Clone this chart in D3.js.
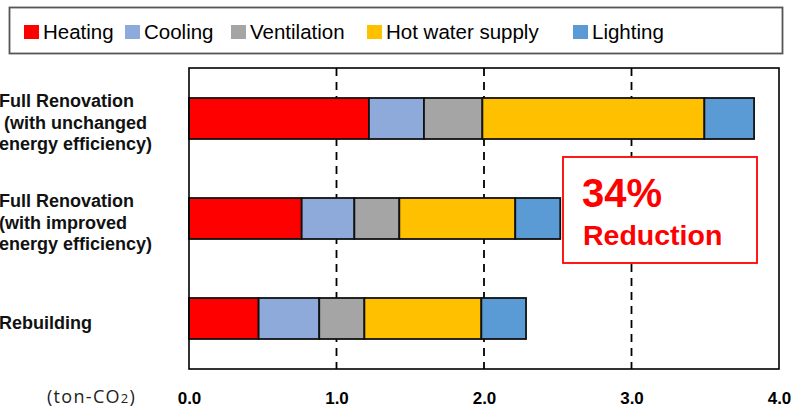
<!DOCTYPE html>
<html>
<head>
<meta charset="utf-8">
<script src="https://cdn.jsdelivr.net/npm/d3@7"></script>
<style>
  body { margin: 0; background: #fff; }
  svg { display: block; font-family: "Liberation Sans", Arial, sans-serif; }
</style>
</head>
<body>
<div id="chart"></div>
<script>
const width = 793;
const height = 408;
const margin = { top: 68, right: 14, bottom: 39, left: 189 };
const innerWidth = width - margin.left - margin.right;
const innerHeight = height - margin.top - margin.bottom;

// data
const categories = ["unchanged", "improved", "rebuilding"];
const categoryLines = [
  ["Full Renovation", " (with unchanged", "energy efficiency)"],
  ["Full Renovation", "(with improved", "energy efficiency)"],
  ["Rebuilding"]
];
const seriesKeys = ["Heating", "Cooling", "Ventilation", "Hot water supply", "Lighting"];
const heating = [1.22, 0.764, 0.472];
const cooling = [0.373, 0.357, 0.411];
const ventilation = [0.396, 0.305, 0.306];
const hotWater = [1.505, 0.786, 0.793];
const lighting = [0.337, 0.305, 0.303];
const xTicks = [0, 1, 2, 3, 4];
const colors = ["#ff0000", "#8eaadb", "#a5a5a5", "#ffc000", "#5b9bd5"];

const data = categories.map((c, i) => ({
  category: c,
  "Heating": heating[i],
  "Cooling": cooling[i],
  "Ventilation": ventilation[i],
  "Hot water supply": hotWater[i],
  "Lighting": lighting[i]
}));

const colorScale = d3.scaleOrdinal().domain(seriesKeys).range(colors);

const svg = d3.select("#chart").append("svg")
  .attr("width", width)
  .attr("height", height)
  .attr("viewBox", [0, 0, width, height]);

const innerChart = svg.append("g")
  .attr("transform", `translate(${margin.left}, ${margin.top})`);

const xScale = d3.scaleLinear()
  .domain([0, 4])
  .range([0, innerWidth]);

const yScale = d3.scaleBand()
  .domain(categories)
  .range([0, innerHeight])
  .paddingInner(0.59)
  .paddingOuter(0.3);

/* gridlines */
innerChart.selectAll(".grid")
  .data(xTicks.filter(t => t > 0 && t < 4))
  .join("line")
    .attr("class", "grid")
    .attr("x1", d => xScale(d))
    .attr("x2", d => xScale(d))
    .attr("y1", 0)
    .attr("y2", innerHeight)
    .attr("stroke", "#000")
    .attr("stroke-width", 1.8)
    .attr("stroke-dasharray", "8,6");

/* stacked bars */
const stackGenerator = d3.stack().keys(seriesKeys);
const annotatedData = stackGenerator(data);

annotatedData.forEach(series => {
  innerChart.selectAll(`.bar-${series.index}`)
    .data(series)
    .join("rect")
      .attr("class", `bar-${series.index}`)
      .attr("x", d => xScale(d[0]))
      .attr("y", d => yScale(d.data.category))
      .attr("width", d => xScale(d[1]) - xScale(d[0]))
      .attr("height", yScale.bandwidth())
      .attr("fill", colorScale(series.key))
      .attr("stroke", "#111")
      .attr("stroke-width", 1.8);
});

/* plot frame */
innerChart.append("rect")
  .attr("x", 0)
  .attr("y", 0)
  .attr("width", innerWidth)
  .attr("height", innerHeight)
  .attr("fill", "none")
  .attr("stroke", "#000")
  .attr("stroke-width", 1.6);

/* x axis labels */
const xAxis = innerChart.append("g")
  .attr("transform", `translate(0, ${innerHeight})`)
  .call(d3.axisBottom(xScale)
    .tickValues(xTicks)
    .tickFormat(d3.format(".1f"))
    .tickSize(0));
xAxis.select(".domain").remove();
xAxis.selectAll("text")
  .attr("y", 35)
  .attr("dy", null)
  .attr("font-family", "'Liberation Sans', Arial, sans-serif")
  .attr("font-size", 17)
  .attr("font-weight", "bold")
  .attr("fill", "#000");

/* unit label */
const unit = svg.append("text")
  .attr("x", 47)
  .attr("y", 403)
  .attr("font-family", "'Open Sans', sans-serif")
  .attr("font-size", 18)
  .attr("letter-spacing", 1.3)
  .attr("fill", "#222");
unit.append("tspan").text("(ton-CO");
unit.append("tspan").attr("font-size", 13).text("2");
unit.append("tspan").text(")");

/* category labels */
categories.forEach((c, i) => {
  const lines = categoryLines[i];
  const cy = margin.top + yScale(c) + yScale.bandwidth() / 2;
  const t = svg.append("text")
    .attr("font-size", 18)
    .attr("font-weight", "bold")
    .attr("fill", "#111")
    .style("white-space", "pre");
  lines.forEach((line, j) => {
    t.append("tspan")
      .attr("x", -1)
      .attr("y", cy + 10 + (j - (lines.length - 1) / 2) * 21.5)
      .text(line);
  });
});

/* legend */
svg.append("rect")
  .attr("x", 9.5)
  .attr("y", 7.5)
  .attr("width", 773)
  .attr("height", 46)
  .attr("fill", "#fff")
  .attr("stroke", "#555")
  .attr("stroke-width", 1.8);

const legendX = [24, 125, 231, 367, 573];
const legend = svg.selectAll(".legend-item")
  .data(seriesKeys)
  .join("g")
    .attr("class", "legend-item")
    .attr("transform", (d, i) => `translate(${legendX[i]}, 0)`);
legend.append("rect")
  .attr("x", 0)
  .attr("y", 25)
  .attr("width", 15)
  .attr("height", 14)
  .attr("fill", d => colorScale(d));
legend.append("text")
  .attr("x", 19)
  .attr("y", 39)
  .attr("font-size", 20.5)
  .attr("fill", "#000")
  .text(d => d);

/* annotation */
svg.append("rect")
  .attr("x", 563)
  .attr("y", 157)
  .attr("width", 194)
  .attr("height", 106)
  .attr("fill", "#fff")
  .attr("stroke", "#ff0000")
  .attr("stroke-width", 1.8);
svg.append("text")
  .attr("x", 582)
  .attr("y", 207)
  .attr("font-size", 40)
  .attr("font-weight", "bold")
  .attr("fill", "#ff0000")
  .text("34%");
svg.append("text")
  .attr("x", 583)
  .attr("y", 245)
  .attr("font-size", 28.5)
  .attr("font-weight", "bold")
  .attr("fill", "#ff0000")
  .text("Reduction");
</script>
</body>
</html>
